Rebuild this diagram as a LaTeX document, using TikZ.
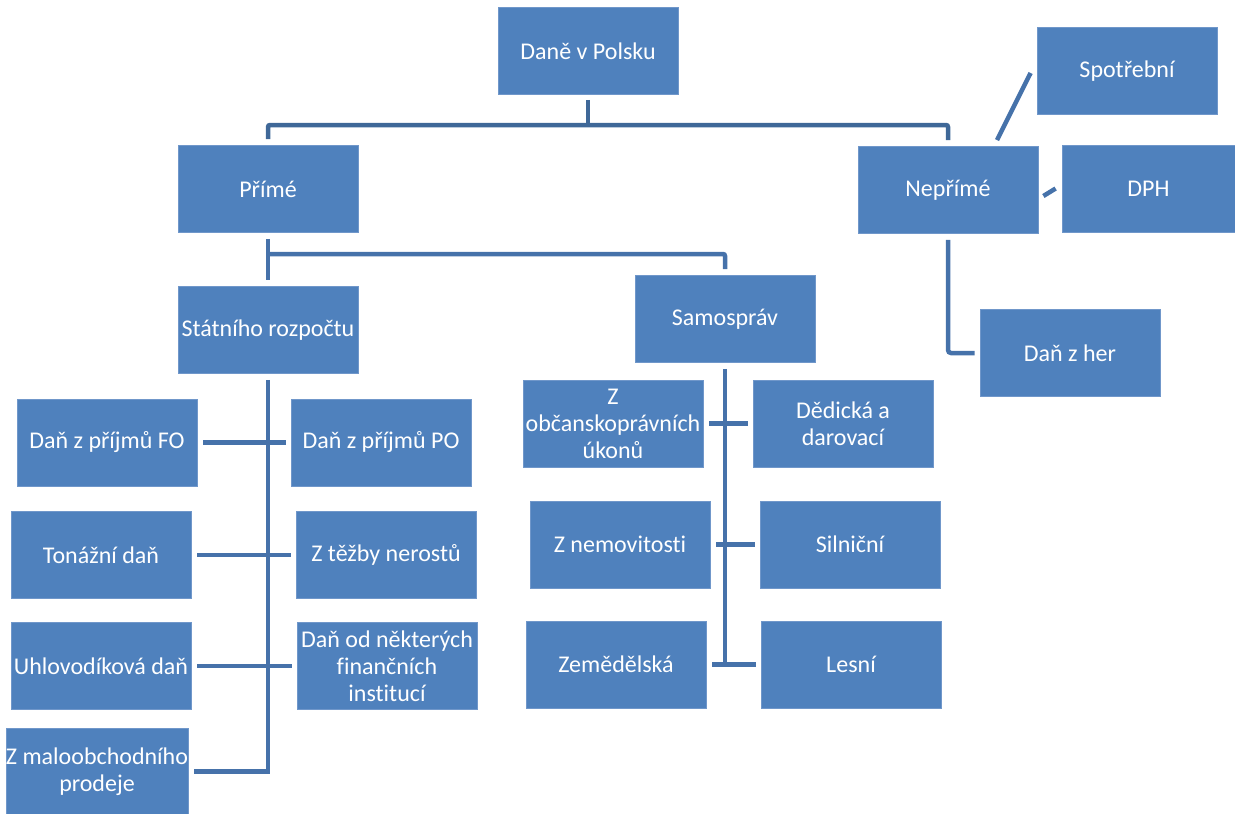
\documentclass[tikz,border=0pt]{standalone}
\usepackage{fontspec}
\setmainfont[Ligatures=NoCommon]{Carlito}
\definecolor{boxblue}{HTML}{4F81BD}
\definecolor{boxedge}{HTML}{7097CA}
\definecolor{linkblue}{HTML}{4672AA}
\definecolor{topblue}{HTML}{3F6898}

\begin{document}
\begin{tikzpicture}[x=1pt,y=-1pt,
	box/.style={fill=boxblue,draw=boxedge,line width=0.8pt,text=white,inner sep=0pt,
		minimum width=180pt,minimum height=87pt,align=center,font=\fontsize{24}{27}\selectfont},
	conn/.style={draw=linkblue,line width=4.5pt},
	topconn/.style={draw=topblue,line width=4.5pt}]
				\useasboundingbox (0,0) rectangle (1235,814);
				
				\path (588,51) node[box] (dane) {Daně v Polsku};
				\path (268,189) node[box] (prime) {Přímé};
				\path (948,190) node[box] (neprime) {Nepřímé};
				\path (1127,71) node[box] (spotrebni) {Spotřební};
				\path (1148.5,188.5) node[box,minimum width=173pt] (dph) {DPH};
				\path (1070,353) node[box] (danzher) {Daň z her};
				
				\path (268,330) node[box] (statni) {Státního rozpočtu};
				\path (725,319) node[box] (samosprav) {Samospráv};
				
				\path (107,442.5) node[box] (fo) {Daň z příjmů FO};
				\path (381,442.5) node[box] (po) {Daň z příjmů PO};
				\path (101,555) node[box] (tonaz) {Tonážní daň};
				\path (386,555) node[box] (tezba) {Z těžby nerostů};
				\path (101,666) node[box] (uhlo) {Uhlovodíková daň};
				\path (387,666) node[box] (instit) {Daň od některých\\finančních\\institucí};
				\path (97,771.5) node[box] (malo) {Z maloobchodního\\prodeje};
				
				\path (613,423.5) node[box] (obcan) {Z\\občanskoprávních\\úkonů};
				\path (843,423.5) node[box] (dedic) {Dědická a\\darovací};
				\path (620,544.5) node[box] (nemov) {Z nemovitosti};
				\path (850,544.5) node[box] (silnic) {Silniční};
				\path (616,664.5) node[box] (zemed) {Zemědělská};
				\path (851,664.5) node[box] (lesni) {Lesní};
				
				\coordinate (topbar) at (588,125);
				\coordinate (split) at (268,254);
				\coordinate (sambot) at (725,664.5);
				
				\draw[topconn] ([yshift=-5pt]dane.south) -- (topbar);
				\draw[topconn,rounded corners=2pt] ([yshift=6pt]prime.north) |- (topbar) -| ([yshift=6pt]neprime.north);
				
				\draw[conn] ([yshift=-6pt]prime.south) -- ([yshift=6pt]statni.north);
				\draw[conn,rounded corners=2pt] (split) -| ([yshift=6pt]samosprav.north);
				
				\draw[conn] ([xshift=49pt,yshift=6pt]neprime.north) -- ([xshift=-6pt,yshift=-2pt]spotrebni.west);
				\draw[conn] ([xshift=5pt,yshift=-6pt]neprime.east) -- ([xshift=-6pt]dph.west);
				\draw[conn,rounded corners=3pt] ([yshift=-6pt]neprime.south) |- ([xshift=-5pt]danzher.west);
				
				\draw[conn] ([yshift=-6pt]statni.south) |- ([xshift=6pt]malo.east);
				\draw[conn] ([xshift=6pt]fo.east) -- ([xshift=-5pt]po.west);
				\draw[conn] ([xshift=6pt]tonaz.east) -- ([xshift=-5pt]tezba.west);
				\draw[conn] ([xshift=6pt]uhlo.east) -- ([xshift=-5pt]instit.west);
				
				\draw[conn] ([yshift=-6pt]samosprav.south) -- (sambot);
				\draw[conn] ([xshift=6pt]obcan.east) -- ([xshift=-5pt]dedic.west);
				\draw[conn] ([xshift=6pt]nemov.east) -- ([xshift=-5pt]silnic.west);
				\draw[conn] ([xshift=6pt]zemed.east) -- ([xshift=-5pt]lesni.west);
\end{tikzpicture}
\end{document}
